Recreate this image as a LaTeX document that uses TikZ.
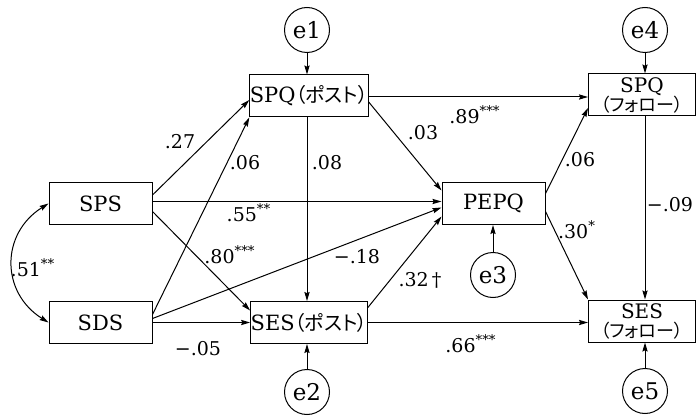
\documentclass[tikz,border=0pt]{standalone}
\usepackage{fontspec}
\setmainfont{DejaVu Serif}
\newfontfamily\jpfont[RawFeature=+palt]{Noto Sans CJK JP}
\usetikzlibrary{arrows.meta,calc}

\begin{document}
\begin{tikzpicture}[x=0.5pt, y=-0.5pt,
    >={Stealth[length=4.5pt,width=2.6pt,inset=0.6pt]},
    font=\fontsize{10.5}{12}\selectfont,
    var/.style={draw, line width=0.5pt, inner sep=0pt,
                minimum width=57pt, minimum height=21pt},
    fol/.style={var, minimum width=53.5pt, align=center,
                font=\fontsize{10}{9.5}\selectfont},
    err/.style={draw, circle, line width=0.5pt, inner sep=0pt,
                minimum size=22.5pt, font=\fontsize{11.5}{12}\selectfont},
    coef/.style={font=\fontsize{9.5}{11}\selectfont},
    link/.style={->, line width=0.5pt}]
  \useasboundingbox (0,0) rectangle (696,417);
  % observed variables
  \node[var, minimum width=51.5pt] (sps)  at (100.5,203.5) {SPS};
  \node[var, minimum width=51.5pt] (sds)  at (100.5,322.5) {SDS};
  \node[var] (spqpost) at (309,96)    {SPQ{\jpfont\fontsize{10}{12}\selectfont（ポスト）}};
  \node[var] (sespost) at (309,322.5) {SES{\jpfont\fontsize{10}{12}\selectfont（ポスト）}};
  \node[var, minimum width=51.5pt] (pepq) at (493.5,203.5) {PEPQ};
  \node[fol, anchor=west] (spqfol) at (588,95)  {SPQ\\{\jpfont\fontsize{9}{9}\selectfont（フォロー）}};
  \node[fol, anchor=west] (sesfol) at (588,321) {SES\\{\jpfont\fontsize{9}{9}\selectfont（フォロー）}};
  % errors
  \node[err] (e1) at (307,30)  {e1};
  \node[err] (e2) at (307,392) {e2};
  \node[err] (e3) at (493,275) {e3};
  \node[err] (e4) at (645,30)  {e4};
  \node[err] (e5) at (645,391) {e5};
  % paths
  \draw[link] ([yshift=4.25pt]sps.east) -- ([yshift=-2pt]spqpost.west);
  \draw[link] ([yshift=4pt]sds.east) -- (spqpost.south west);
  \draw[link] ([yshift=1pt]sps.east) -- ([yshift=1pt]pepq.west);
  \draw[link] ([yshift=-4pt]sps.east) -- ([yshift=6pt]sespost.west);
  \draw[link] ([yshift=2pt]sds.east) -- ([yshift=-2pt]pepq.west);
  \draw[link] (sds.east) -- (sespost.west);
  \draw[link] ([xshift=-1pt]spqpost.south) -- ([xshift=-1pt]sespost.north);
  \draw[link] ([yshift=-3pt]spqpost.east) -- ([yshift=6.5pt]pepq.west);
  \draw[link] ([yshift=-0.5pt]spqpost.east) -- ([yshift=-0.5pt]spqpost.east -| spqfol.west);
  \draw[link] ([yshift=7.5pt]sespost.east) -- ([yshift=-6.5pt]pepq.west);
  \draw[link] (sespost.east) -- (sespost.east -| sesfol.west);
  \draw[link] ([yshift=5pt]pepq.east) -- ([yshift=-6.5pt]spqfol.west);
  \draw[link] ([yshift=-4pt]pepq.east) -- (sesfol.north west);
  \draw[link] (e4 |- spqfol.south) -- (e4 |- sesfol.north);
  \draw[link] (e1) -- (e1 |- spqpost.north);
  \draw[link] (e2) -- (e2 |- sespost.south);
  \draw[link] (e3) -- (e3 |- pepq.south);
  \draw[link] (e4) -- (e4 |- spqfol.north);
  \draw[link] (e5) -- (e5 |- sesfol.south);
  \draw[<->, line width=0.5pt] (sps.west)
    .. controls ($(sps.west)+(-48,30)$) and ($(sds.west)+(-48,-30)$) .. (sds.west);
  % coefficients
  \node[coef] (c27)  at (180,142) {.27};
  \node[coef] (c06a) at (245,163) {.06};
  \node[coef] (c08)  at (327,163) {.08};
  \node[coef] (c55)  at (249,213) {.55\textsuperscript{**}};
  \node[coef] (c80)  at (230,255) {.80\textsuperscript{***}};
  \node[coef] (c51)  at (33,268)  {.51\textsuperscript{**}};
  \node[coef] (c05)  at (198,349) {−.05};
  \node[coef] (c18)  at (357,257) {−.18};
  \node[coef] (c32)  at (420,280) {.32\,\textdagger};
  \node[coef] (c03)  at (423,133) {.03};
  \node[coef] (c89)  at (475,115) {.89\textsuperscript{***}};
  \node[coef] (c06b) at (580,160) {.06};
  \node[coef] (c30)  at (577,230) {.30\textsuperscript{*}};
  \node[coef] (c09)  at (670,205) {−.09};
  \node[coef] (c66)  at (471,344) {.66\textsuperscript{***}};
\end{tikzpicture}
\end{document}
